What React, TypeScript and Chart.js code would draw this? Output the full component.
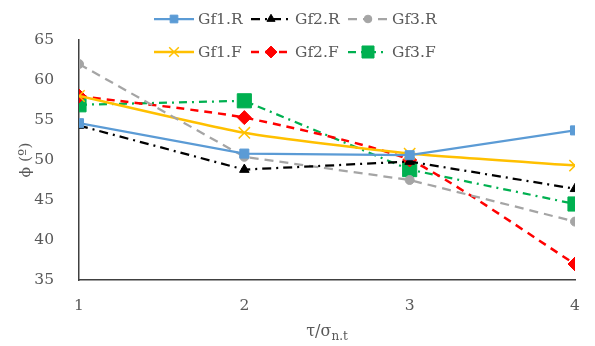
import React, { useEffect, useRef } from "react";
import { Chart, registerables } from "chart.js";
import { drawPoint } from "chart.js/helpers";

Chart.register(...registerables);

const xValues = [1, 2, 3, 4];
const gf1R = [54.6, 50.8, 50.6, 53.7];
const gf2R = [54.3, 48.8, 49.8, 46.4];
const gf3R = [62.0, 50.4, 47.5, 42.3];
const gf1F = [58.0, 53.4, 50.8, 49.3];
const gf2F = [58.0, 55.3, 50.0, 37.0];
const gf3F = [56.9, 57.4, 48.8, 44.5];
const yTicks = [35, 40, 45, 50, 55, 60, 65];

const FONT = "'DejaVu Serif', serif";
const TEXT = "#595959";

type S = {
  label: string; data: number[]; color: string; dash: number[]; width: number;
  style: string; radius: number; tension: number; legendX: number; legendY: number;
};

const series: S[] = [
  { label: "Gf1.R", data: gf1R, color: "#5B9BD5", dash: [], width: 2.25, style: "rect", radius: 6.4, tension: 0, legendX: 154, legendY: 19 },
  { label: "Gf2.R", data: gf2R, color: "#000000", dash: [9, 5, 2, 5], width: 2.25, style: "triangle", radius: 5.5, tension: 0, legendX: 251, legendY: 19 },
  { label: "Gf3.R", data: gf3R, color: "#A5A5A5", dash: [9, 6], width: 2.25, style: "circle", radius: 4.5, tension: 0, legendX: 348, legendY: 19 },
  { label: "Gf1.F", data: gf1F, color: "#FFC000", dash: [], width: 2.5, style: "crossRot", radius: 8, tension: 0.2, legendX: 154, legendY: 52 },
  { label: "Gf2.F", data: gf2F, color: "#FF0000", dash: [8, 6], width: 2.5, style: "rectRot", radius: 7, tension: 0.2, legendX: 251, legendY: 52 },
  { label: "Gf3.F", data: gf3F, color: "#00B050", dash: [8, 5, 2, 5], width: 2.25, style: "rect", radius: 10, tension: 0, legendX: 348, legendY: 52 },
];

const overlay = {
  id: "overlay",
  afterDraw(chart: any) {
    const ctx = chart.ctx as CanvasRenderingContext2D;
    ctx.save();
    // legend
    series.forEach((s) => {
      const x0 = s.legendX, y = s.legendY, w = 40;
      ctx.save();
      ctx.strokeStyle = s.color;
      ctx.lineWidth = s.width;
      ctx.setLineDash(s.dash);
      ctx.beginPath();
      ctx.moveTo(x0, y);
      ctx.lineTo(x0 + w, y);
      ctx.stroke();
      ctx.restore();
      ctx.save();
      ctx.fillStyle = s.color;
      ctx.strokeStyle = s.color;
      ctx.lineWidth = s.style === "crossRot" ? 1.5 : 1;
      ctx.setLineDash([]);
      drawPoint(ctx, { pointStyle: s.style, radius: s.radius * 0.85, borderWidth: ctx.lineWidth, rotation: 0 } as any, x0 + w / 2, y);
      ctx.restore();
      ctx.fillStyle = TEXT;
      ctx.font = `15.5px ${FONT}`;
      ctx.textAlign = "left";
      ctx.textBaseline = "middle";
      ctx.fillText(s.label, x0 + w + 4, y + 1);
    });
    // x title
    const main = "τ/σ";
    const sub = "n.t";
    ctx.font = `16px ${FONT}`;
    const mw = ctx.measureText(main).width;
    ctx.font = `12px ${FONT}`;
    const sw = ctx.measureText(sub).width;
    const cx = (chart.chartArea.left + chart.chartArea.right) / 2;
    const start = cx - (mw + sw) / 2;
    ctx.fillStyle = TEXT;
    ctx.textAlign = "left";
    ctx.textBaseline = "alphabetic";
    ctx.font = `16px ${FONT}`;
    ctx.fillText(main, start, 336);
    ctx.font = `12px ${FONT}`;
    ctx.fillText(sub, start + mw, 340);
    // y title
    ctx.translate(26, 160);
    ctx.rotate(-Math.PI / 2);
    ctx.font = `15.5px ${FONT}`;
    ctx.textAlign = "center";
    ctx.textBaseline = "middle";
    ctx.fillText("ϕ (º)", 0, 0);
    ctx.restore();
  },
};

export default function App() {
  const ref = useRef<HTMLCanvasElement>(null);
  useEffect(() => {
    document.body.style.margin = "0";
    const chart = new Chart(ref.current!, {
      type: "line",
      data: {
        datasets: series.map((s) => ({
          label: s.label,
          data: xValues.map((x, i) => ({ x, y: s.data[i] })),
          borderColor: s.color,
          backgroundColor: s.color,
          borderWidth: s.width,
          borderDash: s.dash,
          pointStyle: s.style as any,
          pointRadius: s.radius,
          pointBorderWidth: s.style === "crossRot" ? 1.5 : 1,
          pointBackgroundColor: s.color,
          pointBorderColor: s.color,
          tension: s.tension,
          fill: false,
        })),
      },
      options: {
        animation: false,
        responsive: false,
        layout: { padding: { top: 40, right: 20, left: 0, bottom: 0 } },
        plugins: { legend: { display: false }, tooltip: { enabled: false } },
        scales: {
          x: {
            type: "linear",
            min: 1,
            max: 4,
            grid: { display: false },
            border: { display: true, color: "#404040", width: 1.5 },
            afterFit: (s: any) => { s.height = 66; },
            afterBuildTicks: (s: any) => { s.ticks = xValues.map((v) => ({ value: v })); },
            ticks: { color: TEXT, font: { family: FONT, size: 15.5 }, padding: 9, maxRotation: 0 },
          },
          y: {
            min: 35,
            max: 65,
            grid: { display: false },
            border: { display: true, color: "#404040", width: 1.5 },
            afterFit: (s: any) => { s.width = 79; },
            afterBuildTicks: (s: any) => { s.ticks = yTicks.map((v) => ({ value: v })); },
            ticks: { color: TEXT, font: { family: FONT, size: 15.5 }, padding: 17 },
          },
        },
      },
      plugins: [overlay],
    } as any);
    return () => chart.destroy();
  }, []);
  return (
    <div style={{ position: "absolute", left: 0, top: 0, width: 595, height: 346, background: "#fff" }}>
      <canvas ref={ref} width={595} height={346} />
    </div>
  );
}
